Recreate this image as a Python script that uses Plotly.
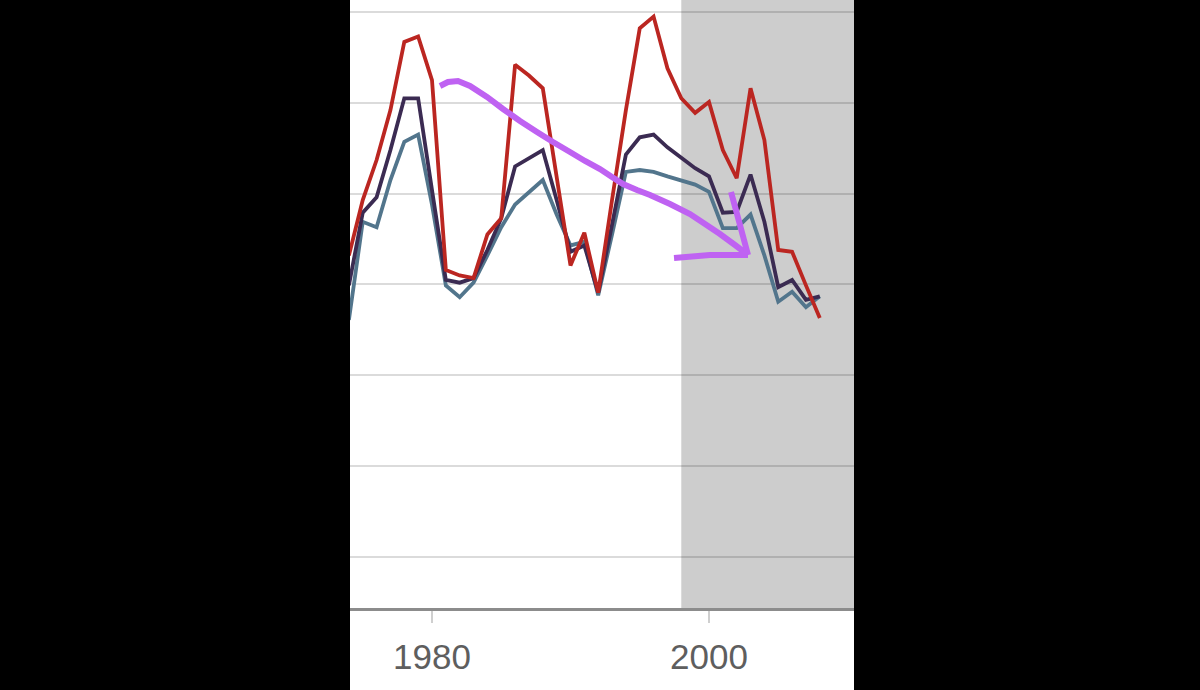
import plotly.graph_objects as go

years = list(range(1974, 2009))

red = [43.2, 49.3, 53.7, 59.2, 66.7, 67.3, 62.5, 41.6, 41.0, 40.7,
       45.5, 47.3, 64.2, 63.0, 61.6, 51.7, 42.1, 45.7, 39.1, 49.3,
       59.2, 68.2, 69.5, 63.8, 60.5, 58.9, 60.1, 54.8, 51.7, 61.6,
       55.9, 43.8, 43.6, 39.9, 36.3]

navy = [39.9, 47.9, 49.6, 54.8, 60.5, 60.5, 50.4, 40.5, 40.2, 40.7,
        43.8, 47.3, 53.0, 53.9, 54.8, 49.3, 43.6, 44.3, 39.1, 46.6,
        54.3, 56.2, 56.5, 55.1, 53.9, 52.8, 51.9, 47.9, 48.0, 52.1,
        46.9, 39.7, 40.5, 38.3, 38.7]

blue = [36.1, 46.9, 46.3, 51.5, 55.7, 56.5, 48.8, 39.9, 38.6, 40.2,
        43.2, 46.3, 48.8, 50.2, 51.5, 47.7, 44.3, 44.7, 38.8, 45.5,
        52.4, 52.6, 52.4, 51.9, 51.5, 51.0, 50.2, 46.2, 46.2, 47.7,
        43.2, 38.1, 39.2, 37.5, 38.7]

tick_years = [1980, 2000]
tick_labels = ["1980", "2000"]
shade_start = 1998.0

# layout geometry (pixels)
L, R, T, B = 350, 854, 0, 608
W, H = 1200, 690

def px(x, y):
    return (x - L) / (R - L), (B - y) / (B - T)

def path_from(points):
    pts = [px(x, y) for x, y in points]
    return "M " + " L ".join(f"{a:.4f},{b:.4f}" for a, b in pts)

arrow_curve = [(440, 86), (448, 82), (458, 81), (470, 86), (487, 97), (503, 109),
               (520, 121), (537, 132), (553, 142), (570, 152), (585, 161),
               (600, 169), (612, 177), (623, 184), (637, 190), (650, 195),
               (670, 204), (690, 214), (705, 224), (720, 234), (735, 245),
               (748, 255)]
arrow_head1 = [(731, 192), (740, 225), (748, 255)]
arrow_head2 = [(674, 258), (710, 255), (748, 255)]

fig = go.Figure()

fig.add_trace(go.Scatter(x=years, y=blue, mode="lines",
                         line=dict(color="#52758c", width=3.8), showlegend=False))
fig.add_trace(go.Scatter(x=years, y=navy, mode="lines",
                         line=dict(color="#3b2b52", width=3.8), showlegend=False))
fig.add_trace(go.Scatter(x=years, y=red, mode="lines",
                         line=dict(color="#bb2621", width=3.8), showlegend=False))

shapes = [
    # white strip below axis
    dict(type="rect", xref="paper", yref="paper", x0=0, x1=1,
         y0=-(H - B) / (B - T), y1=0, fillcolor="white",
         line=dict(width=0), layer="below"),
    # shaded region
    dict(type="rect", xref="x", yref="paper", x0=shade_start, x1=2010.47,
         y0=0, y1=1, fillcolor="#cdcdcd", line=dict(width=0), layer="below"),
]
for pts in (arrow_curve, arrow_head1, arrow_head2):
    shapes.append(dict(type="path", xref="paper", yref="paper",
                       path=path_from(pts),
                       line=dict(color="#bf62f2", width=6), layer="above"))

fig.update_layout(
    width=W, height=H,
    margin=dict(l=L, r=W - R, t=T, b=H - B, pad=0),
    paper_bgcolor="black",
    plot_bgcolor="white",
    shapes=shapes,
    xaxis=dict(range=[1974.08, 2010.47], showgrid=False, zeroline=False,
               tickvals=tick_years, ticktext=tick_labels,
               ticks="outside", ticklen=12, tickwidth=1.5, tickcolor="#cfcfcf",
               ticklabelstandoff=4,
               showline=True, linecolor="#8c8c8c", linewidth=3,
               tickfont=dict(family="Liberation Sans, Arial", size=35, color="#5e5e5e")),
    yaxis=dict(range=[4.385, 71.32], tick0=10, dtick=10, showgrid=True,
               gridcolor="rgba(0,0,0,0.14)", gridwidth=2, zeroline=False,
               showticklabels=False, showline=False, ticks=""),
)

fig.write_html(
    "out.html",
    config={"displayModeBar": False},
    post_script="document.body.style.margin='0';document.body.style.background='black';",
)
